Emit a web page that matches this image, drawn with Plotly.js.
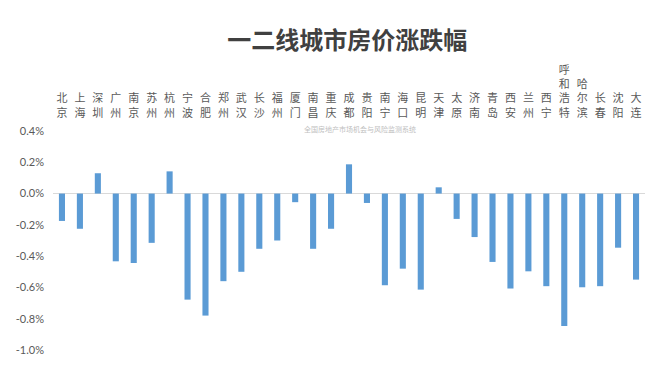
<!DOCTYPE html>
<html>
<head>
<meta charset="utf-8">
<script src="https://cdn.plot.ly/plotly-3.0.1.min.js"></script>
<style>html,body{margin:0;padding:0;background:#fff;}#chart{width:669px;height:376px;}</style>
</head>
<body>
<div id="chart"></div>
<script>
const cities = ['北京','上海','深圳','广州','南京','苏州','杭州','宁波','合肥','郑州','武汉','长沙','福州','厦门','南昌','重庆','成都','贵阳','南宁','海口','昆明','天津','太原','济南','青岛','西安','兰州','西宁','呼和浩特','哈尔滨','长春','沈阳','大连'];
const changePct = [-0.175,-0.225,0.13,-0.433,-0.444,-0.315,0.142,-0.678,-0.78,-0.56,-0.50,-0.353,-0.30,-0.055,-0.353,-0.225,0.187,-0.06,-0.586,-0.48,-0.614,0.04,-0.162,-0.278,-0.437,-0.607,-0.497,-0.592,-0.847,-0.599,-0.592,-0.346,-0.55];
const yTickVals = [0.4,0.2,0.0,-0.2,-0.4,-0.6,-0.8,-1.0];
const yTickText = ['0.4%','0.2%','0.0%','-0.2%','-0.4%','-0.6%','-0.8%','-1.0%'];
const titleText = '一二线城市房价涨跌幅';
const watermark = '全国房地产市场机会与风险监测系统';

const verticalLabels = cities.map(c => c.split('').join('<br>'));

const trace = {
  type: 'bar',
  x: cities,
  y: changePct,
  marker: {color: '#5B9BD5'},
  hoverinfo: 'x+y'
};

const layout = {
  width: 669, height: 376,
  margin: {l: 53, r: 24, t: 131, b: 26, pad: 0},
  paper_bgcolor: '#ffffff', plot_bgcolor: '#ffffff',
  bargap: 0.66,
  showlegend: false,
  title: {
    text: titleText,
    font: {family: 'Noto Sans CJK SC', size: 24, color: '#404040', weight: 'bold'},
    x: 0.519, xanchor: 'center',
    y: 0.891, yanchor: 'middle', yref: 'container'
  },
  xaxis: {
    type: 'category',
    side: 'top',
    range: [-0.5, cities.length - 0.5],
    tickvals: cities,
    ticktext: verticalLabels,
    tickangle: 0,
    showgrid: false, showline: false, zeroline: false,
    ticks: '',
    ticklabelstandoff: 11,
    tickfont: {family: 'Noto Sans CJK SC', size: 11, color: '#595959'}
  },
  yaxis: {
    range: [-1.0, 0.4],
    tickvals: yTickVals,
    ticktext: yTickText,
    showgrid: false, showline: false,
    zeroline: true, zerolinecolor: '#d9d9d9', zerolinewidth: 1,
    ticks: '',
    ticklabelstandoff: 8,
    tickfont: {family: 'Lato, Carlito, sans-serif', size: 11, color: '#595959'}
  },
  annotations: [{
    text: watermark,
    xref: 'paper', yref: 'paper',
    x: (360 - 53) / 592, y: 1 + (131 - 129) / 219,
    xanchor: 'center', yanchor: 'middle',
    showarrow: false,
    font: {family: 'Noto Sans CJK SC', size: 7, color: '#c0c0c0'}
  }]
};

Plotly.newPlot('chart', [trace], layout, {displayModeBar: false, staticPlot: true});
</script>
</body>
</html>
